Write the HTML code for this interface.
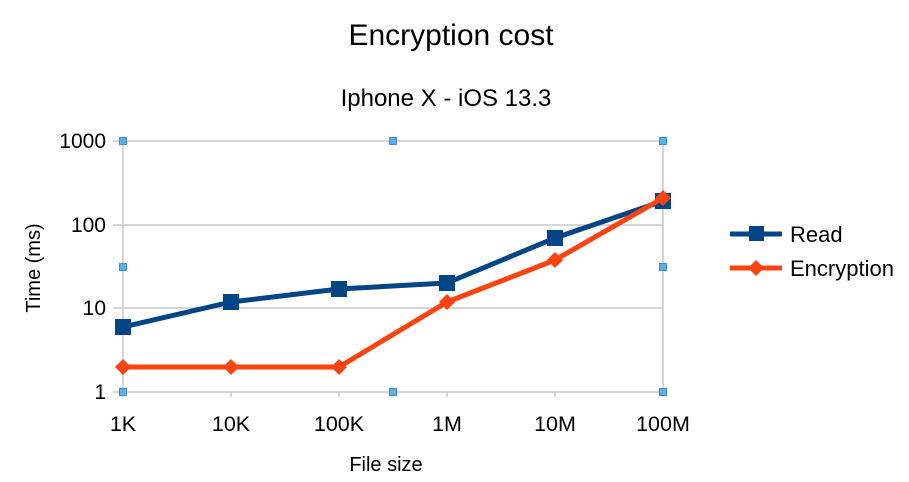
<!DOCTYPE html>
<html><head><style>body{margin:0;background:#fff}svg{display:block}text{font-family:"Liberation Sans",sans-serif;fill:#000}</style></head>
<body>
<svg width="909" height="482" viewBox="0 0 909 482">
<text x="451" y="45" font-size="30" text-anchor="middle">Encryption cost</text>
<text x="446" y="106" font-size="24" text-anchor="middle">Iphone X - iOS 13.3</text>
<g stroke="#c8c8c8" stroke-width="1.5">
<line x1="113" y1="141" x2="663" y2="141"/><line x1="113" y1="225" x2="663" y2="225"/>
<line x1="113" y1="308" x2="663" y2="308"/><line x1="113" y1="392" x2="663" y2="392"/>
<line x1="123" y1="141" x2="123" y2="397"/><line x1="663" y1="141" x2="663" y2="397"/>
<line x1="231" y1="392" x2="231" y2="397"/><line x1="339" y1="392" x2="339" y2="397"/>
<line x1="447" y1="392" x2="447" y2="397"/><line x1="555" y1="392" x2="555" y2="397"/>
</g>
<g font-size="21" text-anchor="end">
<text x="106" y="148">1000</text><text x="106" y="232">100</text><text x="106" y="315">10</text><text x="106" y="399">1</text>
</g>
<g font-size="21.5" text-anchor="middle">
<text x="123" y="431">1K</text><text x="231" y="431">10K</text><text x="339" y="431">100K</text><text x="447" y="431">1M</text><text x="555" y="431">10M</text><text x="663" y="431">100M</text>
</g>
<text x="386" y="471" font-size="20" text-anchor="middle">File size</text>
<text transform="translate(40,268) rotate(-90)" font-size="20" text-anchor="middle">Time (ms)</text>
<polyline points="123,327 231,302 339,289 447,283 555,238 663,201" fill="none" stroke="#004586" stroke-width="5" stroke-linejoin="round"/>
<g fill="#004586">
<rect x="115" y="319" width="16" height="16"/><rect x="223" y="294" width="16" height="16"/><rect x="331" y="281" width="16" height="16"/><rect x="439" y="275" width="16" height="16"/><rect x="547" y="230" width="16" height="16"/><rect x="655" y="193" width="16" height="16"/>
</g>
<polyline points="123,367 231,367 339,367 447,302 555,260 663,198" fill="none" stroke="#ff420e" stroke-width="5" stroke-linejoin="round"/>
<g fill="#ff420e">
<path d="M123,359l8,8l-8,8l-8,-8z"/><path d="M231,359l8,8l-8,8l-8,-8z"/><path d="M339,359l8,8l-8,8l-8,-8z"/><path d="M447,294l8,8l-8,8l-8,-8z"/><path d="M555,252l8,8l-8,8l-8,-8z"/><path d="M663,190l8,8l-8,8l-8,-8z"/>
</g>
<g fill="#5ab0ea" stroke="#2a7cc0" stroke-width="0.8">
<rect x="119.5" y="137.5" width="7" height="7"/><rect x="389.5" y="137.5" width="7" height="7"/><rect x="659.5" y="137.5" width="7" height="7"/>
<rect x="119.5" y="263.5" width="7" height="7"/><rect x="659.5" y="263.5" width="7" height="7"/>
<rect x="119.5" y="388.5" width="7" height="7"/><rect x="389.5" y="388.5" width="7" height="7"/><rect x="659.5" y="388.5" width="7" height="7"/>
</g>
<line x1="730" y1="234" x2="782" y2="234" stroke="#004586" stroke-width="5"/>
<rect x="749" y="226" width="15" height="15" fill="#004586"/>
<text x="790" y="242" font-size="22">Read</text>
<line x1="730" y1="268" x2="782" y2="268" stroke="#ff420e" stroke-width="5"/>
<path d="M756,260l8,8l-8,8l-8,-8z" fill="#ff420e"/>
<text x="790" y="276" font-size="22">Encryption</text>
</svg>
</body></html>
